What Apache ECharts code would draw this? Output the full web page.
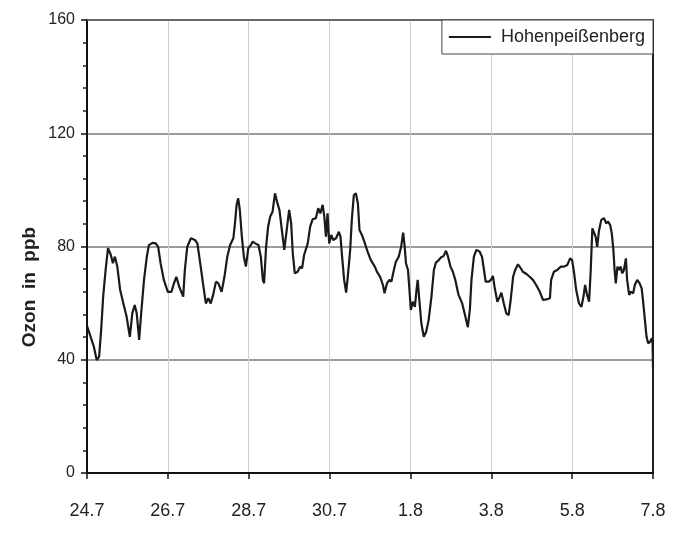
<!DOCTYPE html>
<html>
<head>
<meta charset="utf-8">
<title>Ozon Hohenpeißenberg</title>
<script src="https://cdn.jsdelivr.net/npm/echarts@6/dist/echarts.min.js"></script>
<style>
  html, body { margin: 0; padding: 0; background: #fff; }
  #chart { width: 674px; height: 533px; }
</style>
</head>
<body>
<div id="chart"></div>
<script>
// Time in days since 24.7 (00 h), 14 days shown
const dayOffset = [
  0.00, 0.09, 0.17, 0.24, 0.30, 0.35, 0.40, 0.46, 0.52, 0.59, 0.64, 0.69, 0.75, 0.82, 0.90, 0.98,
  1.06, 1.12, 1.18, 1.23, 1.29, 1.34, 1.41, 1.48, 1.53, 1.62, 1.70, 1.76, 1.82, 1.90, 2.00, 2.09,
  2.15, 2.21, 2.28, 2.38, 2.42, 2.48, 2.57, 2.67, 2.73, 2.80, 2.88, 2.94, 3.00, 3.06, 3.12, 3.19,
  3.25, 3.33, 3.40, 3.47, 3.54, 3.62, 3.66, 3.70, 3.74, 3.78, 3.83, 3.88, 3.93, 3.99, 4.05, 4.10,
  4.16, 4.24, 4.30, 4.35, 4.38, 4.43, 4.48, 4.53, 4.59, 4.65, 4.71, 4.76, 4.82, 4.88, 4.94, 5.00,
  5.05, 5.09, 5.14, 5.21, 5.27, 5.32, 5.37, 5.46, 5.52, 5.58, 5.66, 5.72, 5.77, 5.83, 5.87, 5.91,
  5.95, 5.99, 6.04, 6.09, 6.16, 6.23, 6.27, 6.31, 6.36, 6.41, 6.45, 6.51, 6.55, 6.60, 6.65, 6.70,
  6.74, 6.80, 6.86, 6.94, 7.02, 7.12, 7.17, 7.25, 7.32, 7.36, 7.42, 7.48, 7.53, 7.59, 7.64, 7.71,
  7.77, 7.82, 7.85, 7.89, 7.94, 7.97, 8.01, 8.06, 8.11, 8.15, 8.18, 8.22, 8.27, 8.33, 8.39, 8.45,
  8.52, 8.58, 8.63, 8.70, 8.76, 8.82, 8.88, 8.93, 8.99, 9.05, 9.11, 9.19, 9.28, 9.36, 9.42, 9.47,
  9.51, 9.57, 9.63, 9.71, 9.77, 9.82, 9.86, 9.94, 9.99, 10.04, 10.08, 10.15, 10.21, 10.25, 10.31, 10.37,
  10.43, 10.48, 10.54, 10.59, 10.66, 10.73, 10.78, 10.87, 10.95, 11.03, 11.11, 11.20, 11.28, 11.36, 11.45, 11.48,
  11.55, 11.63, 11.72, 11.80, 11.88, 11.95, 12.00, 12.05, 12.10, 12.17, 12.23, 12.28, 12.32, 12.37, 12.42, 12.46,
  12.50, 12.54, 12.58, 12.62, 12.66, 12.72, 12.79, 12.84, 12.89, 12.94, 12.98, 13.02, 13.05, 13.08, 13.12, 13.16,
  13.20, 13.24, 13.28, 13.33, 13.36, 13.41, 13.45, 13.51, 13.55, 13.61, 13.67, 13.72, 13.76, 13.80, 13.84, 13.88,
  13.93, 13.97, 13.99, 14.00
];

// Ozone mixing ratio in ppb
const ozonePpb = [
  52.0, 48.1, 44.6, 39.9, 41.1, 50.5, 62.3, 71.7, 79.4, 77.0, 74.1, 76.4, 72.9, 64.6, 59.9, 55.2,
  48.1, 56.4, 59.3, 56.4, 47.0, 56.4, 68.2, 76.4, 80.5, 81.3, 81.1, 79.9, 74.1, 68.2, 64.0, 64.0,
  67.0, 69.3, 65.8, 62.3, 71.7, 79.9, 82.9, 82.3, 81.1, 74.1, 65.8, 59.9, 61.7, 59.9, 62.9, 67.6,
  67.0, 64.0, 69.3, 76.4, 80.5, 82.9, 88.2, 94.7, 97.0, 92.9, 83.5, 76.4, 72.9, 79.4, 80.5, 81.7,
  81.1, 80.5, 76.4, 68.2, 67.0, 79.9, 87.0, 90.5, 92.3, 98.8, 95.3, 92.9, 85.8, 78.8, 85.8, 92.9,
  88.2, 77.6, 70.5, 71.1, 72.9, 72.3, 77.0, 81.1, 87.0, 89.6, 90.0, 93.5, 91.7, 94.7, 90.5, 83.5,
  91.7, 81.1, 84.1, 82.3, 82.9, 85.2, 83.5, 76.4, 68.2, 63.7, 69.3, 78.8, 89.4, 98.2, 98.8, 95.3,
  85.8, 84.1, 81.7, 78.2, 75.2, 72.9, 71.1, 69.3, 66.4, 63.5, 67.0, 68.2, 67.6, 71.7, 74.6, 76.4,
  79.9, 84.9, 81.1, 74.1, 71.7, 65.8, 57.6, 60.5, 58.7, 64.6, 68.2, 61.1, 52.9, 48.1, 49.9, 54.0,
  62.3, 71.7, 74.3, 75.2, 76.2, 76.6, 78.5, 76.4, 72.9, 71.1, 68.2, 62.9, 59.9, 55.2, 51.5, 57.6,
  68.2, 76.4, 78.8, 78.2, 76.4, 71.7, 67.6, 67.6, 68.2, 69.6, 65.8, 60.5, 62.3, 63.7, 59.9, 56.4,
  55.8, 61.1, 69.3, 71.7, 73.7, 72.3, 71.1, 70.3, 69.3, 68.2, 66.4, 64.0, 61.1, 61.3, 61.7, 68.2,
  71.1, 71.7, 72.9, 72.9, 73.5, 75.8, 75.2, 70.5, 64.6, 59.9, 58.7, 62.3, 66.4, 62.9, 60.5, 71.7,
  86.4, 87.0, 83.5, 79.9, 85.2, 89.4, 90.0, 88.2, 88.8, 87.6, 84.7, 78.8, 71.7, 67.0, 72.9, 71.7,
  72.9, 70.5, 71.7, 75.8, 68.2, 62.9, 64.0, 63.5, 66.4, 68.2, 67.0, 65.2, 59.9, 54.0, 48.1, 45.8,
  46.4, 47.6, 45.8, 37.0
];

// Date labels at every second day
const dateLabels = ['24.7', '26.7', '28.7', '30.7', '1.8', '3.8', '5.8', '7.8'];

const yTicks = [0, 40, 80, 120, 160];

const seriesName = 'Hohenpeißenberg';

const points = dayOffset.map((d, i) => [d, ozonePpb[i]]);

const FONT = '"Liberation Sans", Arial, sans-serif';

const chart = echarts.init(document.getElementById('chart'), null, { renderer: 'canvas' });

chart.setOption({
  animation: false,
  backgroundColor: '#ffffff',
  grid: { left: 87, right: 21, top: 20, bottom: 60, containLabel: false },
  legend: {
    show: true,
    right: 21,
    top: 20,
    orient: 'horizontal',
    backgroundColor: '#ffffff',
    borderColor: '#444',
    borderWidth: 1,
    borderRadius: 0,
    padding: [8, 8, 8, 7],
    itemWidth: 42,
    itemHeight: 16,
    icon: 'path://M0,7 L42,7 L42,9 L0,9 Z',
    itemStyle: { color: '#1a1a1a' },
    textStyle: { fontFamily: FONT, fontSize: 18, color: '#222', padding: [0, 0, 0, 5] },
    data: [seriesName]
  },
  xAxis: [
    {
      type: 'value',
      min: 0,
      max: 14,
      interval: 2,
      position: 'bottom',
      axisLine: { show: true, onZero: false, lineStyle: { color: '#111', width: 2 } },
      axisTick: { show: true, inside: false, length: 6, lineStyle: { color: '#111', width: 1.5 } },
      axisLabel: {
        margin: 29,
        fontFamily: FONT,
        fontSize: 18,
        color: '#222',
        formatter: v => dateLabels[Math.round(v / 2)] || ''
      },
      splitLine: { show: true, lineStyle: { color: '#cfcfcf', width: 1 } }
    },
    {
      type: 'value',
      min: 0,
      max: 14,
      interval: 2,
      position: 'top',
      axisLine: { show: true, onZero: false, lineStyle: { color: '#555', width: 1.5 } },
      axisTick: { show: false },
      axisLabel: { show: false },
      splitLine: { show: false }
    }
  ],
  yAxis: [
    {
      type: 'value',
      min: 0,
      max: 160,
      interval: 40,
      position: 'left',
      axisLine: { show: true, onZero: false, lineStyle: { color: '#111', width: 2 } },
      axisTick: { show: true, inside: false, length: 6, lineStyle: { color: '#111', width: 1.5 } },
      minorTick: { show: true, splitNumber: 5, length: 4, lineStyle: { color: '#222', width: 1.5 } },
      axisLabel: {
        margin: 12,
        fontFamily: FONT,
        fontSize: 16,
        color: '#222',
        formatter: v => (yTicks.indexOf(v) >= 0 ? String(v) : '')
      },
      splitLine: { show: true, lineStyle: { color: '#7a7a7a', width: 1.5 } }
    },
    {
      type: 'value',
      min: 0,
      max: 160,
      interval: 40,
      position: 'right',
      axisLine: { show: true, onZero: false, lineStyle: { color: '#222', width: 2 } },
      axisTick: { show: false },
      axisLabel: { show: false },
      splitLine: { show: false }
    }
  ],
  graphic: [
    {
      type: 'text',
      x: 30,
      y: 287,
      rotation: Math.PI / 2,
      style: {
        text: 'Ozon  in  ppb',
        fontFamily: FONT,
        fontSize: 19,
        fontWeight: 'bold',
        fill: '#222',
        align: 'center',
        verticalAlign: 'middle'
      }
    }
  ],
  series: [
    {
      name: seriesName,
      type: 'line',
      xAxisIndex: 0,
      yAxisIndex: 0,
      data: points,
      symbol: 'none',
      showSymbol: false,
      smooth: false,
      lineStyle: { color: '#1a1a1a', width: 2.2 },
      itemStyle: { color: '#1a1a1a' },
      z: 3
    }
  ]
});
</script>
</body>
</html>
